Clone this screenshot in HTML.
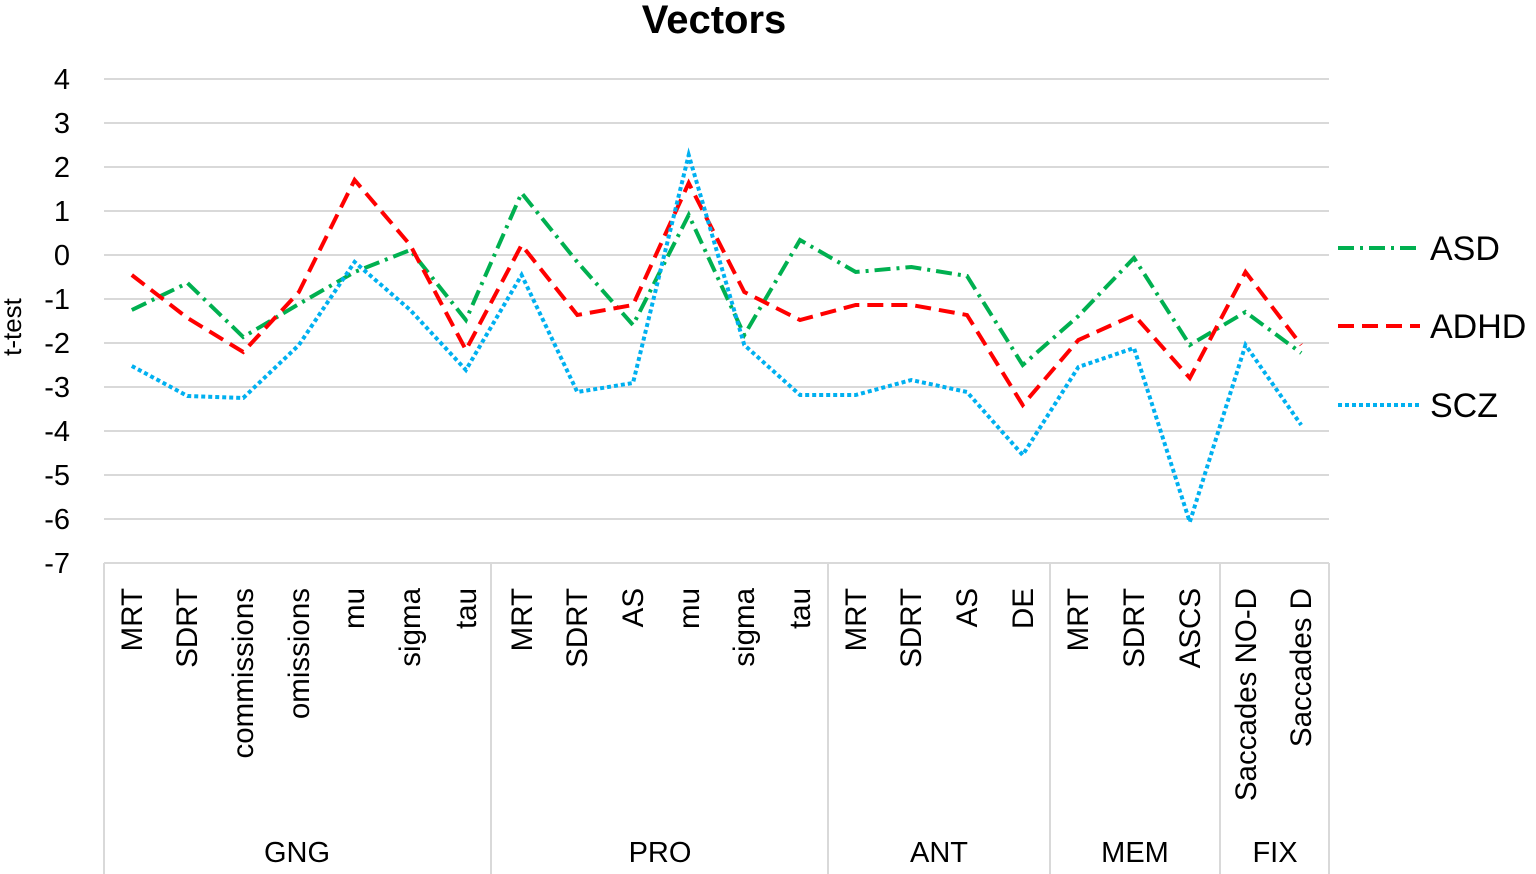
<!DOCTYPE html>
<html><head><meta charset="utf-8"><style>
body{margin:0;background:#fff;}
svg{display:block;font-family:"Liberation Sans",sans-serif;}
</style></head><body>
<svg width="1536" height="874" viewBox="0 0 1536 874">
<text x="714" y="33" font-size="40" font-weight="bold" text-anchor="middle">Vectors</text>
<g stroke="#d9d9d9" stroke-width="2">
<line x1="104" y1="79" x2="1329" y2="79"/><line x1="104" y1="123" x2="1329" y2="123"/>
<line x1="104" y1="167" x2="1329" y2="167"/><line x1="104" y1="211" x2="1329" y2="211"/>
<line x1="104" y1="255" x2="1329" y2="255"/><line x1="104" y1="299" x2="1329" y2="299"/>
<line x1="104" y1="343" x2="1329" y2="343"/><line x1="104" y1="387" x2="1329" y2="387"/>
<line x1="104" y1="431" x2="1329" y2="431"/><line x1="104" y1="475" x2="1329" y2="475"/>
<line x1="104" y1="519" x2="1329" y2="519"/>
<line x1="104" y1="563" x2="1329" y2="563"/>
<line x1="104" y1="563" x2="104" y2="874"/><line x1="491" y1="563" x2="491" y2="874"/>
<line x1="828" y1="563" x2="828" y2="874"/><line x1="1050" y1="563" x2="1050" y2="874"/>
<line x1="1220" y1="563" x2="1220" y2="874"/><line x1="1329" y1="563" x2="1329" y2="874"/>
</g>
<g font-size="29" text-anchor="end">
<text x="70" y="89">4</text><text x="70" y="133">3</text><text x="70" y="177">2</text>
<text x="70" y="221">1</text><text x="70" y="265">0</text><text x="70" y="309">-1</text>
<text x="70" y="353">-2</text><text x="70" y="397">-3</text><text x="70" y="441">-4</text>
<text x="70" y="485">-5</text><text x="70" y="529">-6</text><text x="70" y="573">-7</text>
</g>
<text transform="translate(21,327) rotate(-90)" font-size="26" text-anchor="middle">t-test</text>
<g font-size="29.5" text-anchor="end">
<g transform="translate(142,588) rotate(-90)"><text>MRT</text></g>
<g transform="translate(197,588) rotate(-90)"><text>SDRT</text></g>
<g transform="translate(253,588) rotate(-90)"><text>commissions</text></g>
<g transform="translate(309,588) rotate(-90)"><text>omissions</text></g>
<g transform="translate(364,588) rotate(-90)"><text>mu</text></g>
<g transform="translate(420,588) rotate(-90)"><text>sigma</text></g>
<g transform="translate(476,588) rotate(-90)"><text>tau</text></g>
<g transform="translate(532,588) rotate(-90)"><text>MRT</text></g>
<g transform="translate(587,588) rotate(-90)"><text>SDRT</text></g>
<g transform="translate(643,588) rotate(-90)"><text>AS</text></g>
<g transform="translate(699,588) rotate(-90)"><text>mu</text></g>
<g transform="translate(754,588) rotate(-90)"><text>sigma</text></g>
<g transform="translate(810,588) rotate(-90)"><text>tau</text></g>
<g transform="translate(866,588) rotate(-90)"><text>MRT</text></g>
<g transform="translate(921,588) rotate(-90)"><text>SDRT</text></g>
<g transform="translate(977,588) rotate(-90)"><text>AS</text></g>
<g transform="translate(1033,588) rotate(-90)"><text>DE</text></g>
<g transform="translate(1088,588) rotate(-90)"><text>MRT</text></g>
<g transform="translate(1144,588) rotate(-90)"><text>SDRT</text></g>
<g transform="translate(1200,588) rotate(-90)"><text>ASCS</text></g>
<g transform="translate(1256,588) rotate(-90)"><text>Saccades NO-D</text></g>
<g transform="translate(1311,588) rotate(-90)"><text>Saccades D</text></g>
</g>
<g font-size="29" text-anchor="middle">
<text x="297" y="862">GNG</text><text x="660" y="862">PRO</text><text x="939" y="862">ANT</text>
<text x="1135" y="862">MEM</text><text x="1275" y="862">FIX</text>
</g>
<g fill="none" stroke-width="4">
<polyline stroke="#00b050" stroke-dasharray="16,6,3,6" points="131.8,310 187.5,283 243.2,337 298.9,304 354.6,272 410.2,250 465.9,320 521.6,193 577.3,262 633,325 688.7,215 744.3,335 800,240 855.7,272 911.4,267 967,276 1022.7,365 1078.4,316 1134,258 1189.8,345 1245.5,312 1301.2,353"/>
<polyline stroke="#ff0000" stroke-dasharray="16,8" points="131.8,275 187.5,318 243.2,352 298.9,292 354.6,180 410.2,245 465.9,350 521.6,245 577.3,315 633,305 688.7,183 744.3,292 800,320 855.7,305 911.4,305 967,315 1022.7,405 1078.4,340 1134,315 1189.8,378 1245.5,272 1301.2,345"/>
<polyline stroke="#00b0f0" stroke-dasharray="4,3" points="131.8,366 187.5,396 243.2,398 298.9,345 354.6,262 410.2,310 465.9,370 521.6,275 577.3,392 633,383 688.7,155 744.3,345 800,395 855.7,395 911.4,380 967,392 1022.7,455 1078.4,367 1134,348 1189.8,522 1245.5,345 1301.2,425"/>
<line x1="1338" y1="248" x2="1420" y2="248" stroke="#00b050" stroke-dasharray="16,6,3,6"/>
<line x1="1338" y1="326" x2="1420" y2="326" stroke="#ff0000" stroke-dasharray="16,8"/>
<line x1="1338" y1="405" x2="1420" y2="405" stroke="#00b0f0" stroke-dasharray="4,3"/>
</g>
<g font-size="34">
<text x="1430" y="260">ASD</text><text x="1430" y="338">ADHD</text><text x="1430" y="417">SCZ</text>
</g>
</svg>
</body></html>
